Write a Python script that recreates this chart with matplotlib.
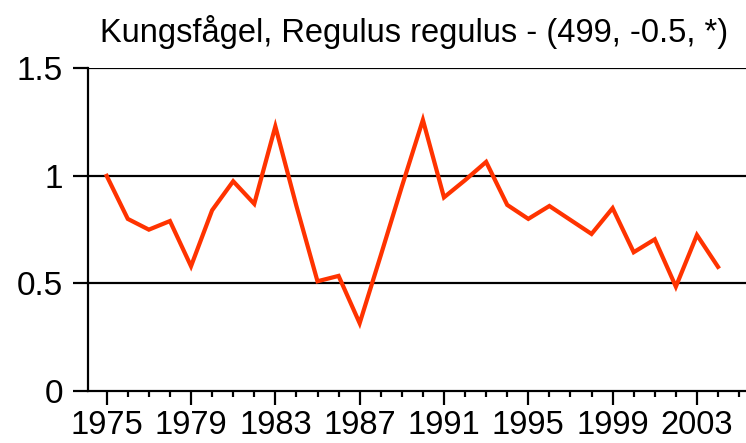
"""Kungsfågel index curve, 1975-2004."""

import matplotlib

matplotlib.use("Agg")

import matplotlib.pyplot as plt
from matplotlib.ticker import MultipleLocator, FixedLocator

YEARS = list(range(1975, 2005))
INDEX = [
    1.00, 0.80, 0.75, 0.79, 0.58, 0.84, 0.975, 0.87, 1.23, 0.86,
    0.51, 0.535, 0.315, 0.63, 0.95, 1.26, 0.90, 0.98, 1.065, 0.865,
    0.80, 0.86, 0.795, 0.73, 0.85, 0.645, 0.705, 0.485, 0.725, 0.577,
]
TITLE = "Kungsfågel, Regulus regulus - (499, -0.5, *)"
MAJOR_YEARS = list(range(1975, 2004, 4))
Y_TICKS = [0, 0.5, 1, 1.5]
Y_LABELS = ["0", "0.5", "1", "1.5"]

W, H = 746, 443
DPI = 100
PX = 72 / DPI  # points per pixel

plt.rcParams["font.family"] = ["Liberation Sans", "DejaVu Sans"]

fig = plt.figure(figsize=(W / DPI, H / DPI), dpi=DPI, facecolor="white")

# axes box in pixel coordinates of the reference
left_px, right_px = 87.7, 746
top_px, bottom_px = 68.3, 391
ax = fig.add_axes([left_px / W, 1 - bottom_px / H,
                   (right_px - left_px) / W, (bottom_px - top_px) / H])

ax.plot(YEARS, INDEX, color="#ff3300", linewidth=4.2 * PX,
        solid_joinstyle="miter", zorder=3, clip_on=False)

for y in Y_TICKS[1:]:
    ax.axhline(y, color="black", linewidth=2.2 * PX, zorder=2)

ax.set_ylim(0, 1.5)
x_per_px = 1 / 21.08
ax.set_xlim(1975 - (106.7 - left_px) * x_per_px, 1975 + (right_px - 106.7) * x_per_px)

ax.xaxis.set_major_locator(FixedLocator(MAJOR_YEARS))
ax.xaxis.set_minor_locator(MultipleLocator(1))
ax.set_yticks(Y_TICKS)
ax.set_yticklabels(Y_LABELS)

for side in ("top", "right"):
    ax.spines[side].set_visible(False)
for side in ("left", "bottom"):
    ax.spines[side].set_linewidth(2.2 * PX)
    ax.spines[side].set_color("black")

ax.tick_params(axis="x", which="major", direction="out", length=14 * PX,
               width=2.2 * PX, pad=5 * PX, labelsize=23.5)
ax.tick_params(axis="x", which="minor", direction="out", length=6 * PX,
               width=2.2 * PX)
ax.tick_params(axis="y", which="major", direction="out", length=14.7 * PX,
               width=2.2 * PX, pad=10 * PX, labelsize=24)
ax.set_facecolor("white")

fig.text(100 / W, 1 - 41.7 / H, TITLE, ha="left", va="baseline",
         fontsize=23.5, color="black")

fig.savefig("out.png", dpi=DPI, facecolor="white")
